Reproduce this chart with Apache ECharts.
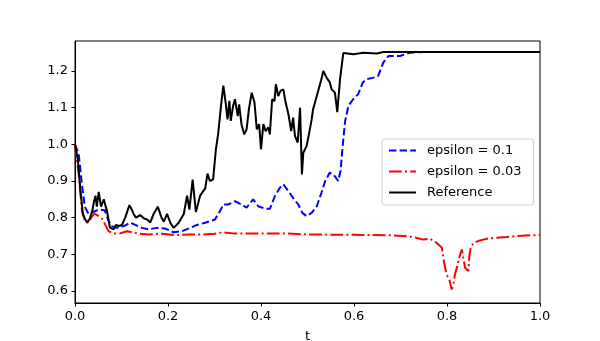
<!DOCTYPE html>
<html>
<head>
<meta charset="utf-8">
<script src="https://cdn.jsdelivr.net/npm/echarts@6/dist/echarts.min.js"></script>
<style>
  html, body { margin: 0; padding: 0; background: #fff; }
  #chart { width: 600px; height: 341px; }
</style>
</head>
<body>
<div id="chart"></div>
<script>
// series names
const seriesNames = ["epsilon = 0.1", "epsilon = 0.03", "Reference"];

// epsilon = 0.1 (blue dashed)
const tEps1 = [0, 0.008, 0.015, 0.021, 0.029, 0.04, 0.051, 0.064, 0.071, 0.078, 0.09, 0.105, 0.119, 0.13, 0.144, 0.158, 0.176, 0.194, 0.212, 0.23, 0.248, 0.262, 0.28, 0.301, 0.312, 0.319, 0.33, 0.344, 0.358, 0.369, 0.383, 0.394, 0.409, 0.419, 0.43, 0.441, 0.448, 0.459, 0.469, 0.48, 0.489, 0.498, 0.509, 0.52, 0.53, 0.538, 0.548, 0.559, 0.566, 0.571, 0.576, 0.581, 0.588, 0.598, 0.609, 0.619, 0.627, 0.642, 0.652, 0.663, 0.674, 0.699, 0.72, 0.75, 1.0];
const yEps1 = [1.0, 0.973, 0.89, 0.83, 0.81, 0.816, 0.822, 0.82, 0.795, 0.777, 0.772, 0.777, 0.786, 0.78, 0.772, 0.768, 0.772, 0.77, 0.76, 0.763, 0.772, 0.78, 0.786, 0.795, 0.818, 0.836, 0.836, 0.845, 0.836, 0.827, 0.85, 0.831, 0.824, 0.824, 0.859, 0.882, 0.891, 0.872, 0.854, 0.836, 0.813, 0.804, 0.813, 0.831, 0.868, 0.9, 0.923, 0.913, 0.9, 0.927, 1.0, 1.064, 1.105, 1.123, 1.137, 1.169, 1.178, 1.182, 1.187, 1.223, 1.241, 1.241, 1.25, 1.252, 1.252];

// epsilon = 0.03 (red dash-dot)
const tEps03 = [0, 0.008, 0.015, 0.022, 0.029, 0.035, 0.042, 0.051, 0.06, 0.065, 0.072, 0.083, 0.097, 0.112, 0.123, 0.137, 0.158, 0.187, 0.216, 0.245, 0.273, 0.3, 0.319, 0.34, 0.38, 0.45, 0.5, 0.6, 0.68, 0.706, 0.728, 0.749, 0.763, 0.778, 0.789, 0.792, 0.796, 0.799, 0.805, 0.81, 0.814, 0.817, 0.822, 0.826, 0.832, 0.835, 0.839, 0.842, 0.846, 0.848, 0.851, 0.857, 0.867, 0.878, 0.889, 0.907, 0.928, 0.95, 0.986, 1.0];
const yEps03 = [1.0, 0.918, 0.818, 0.789, 0.786, 0.8, 0.811, 0.804, 0.795, 0.781, 0.763, 0.757, 0.757, 0.763, 0.76, 0.756, 0.754, 0.756, 0.752, 0.754, 0.754, 0.756, 0.76, 0.757, 0.757, 0.757, 0.754, 0.753, 0.752, 0.75, 0.747, 0.74, 0.743, 0.731, 0.718, 0.69, 0.663, 0.645, 0.631, 0.604, 0.617, 0.645, 0.667, 0.69, 0.713, 0.69, 0.663, 0.658, 0.654, 0.695, 0.718, 0.731, 0.736, 0.74, 0.743, 0.745, 0.747, 0.75, 0.752, 0.752];

// Reference (black solid)
const tRef = [0, 0.006, 0.012, 0.017, 0.022, 0.026, 0.031, 0.037, 0.041, 0.044, 0.047, 0.051, 0.056, 0.062, 0.066, 0.069, 0.075, 0.083, 0.088, 0.094, 0.101, 0.108, 0.117, 0.122, 0.126, 0.131, 0.135, 0.14, 0.148, 0.155, 0.162, 0.169, 0.178, 0.182, 0.186, 0.191, 0.198, 0.205, 0.212, 0.223, 0.234, 0.241, 0.246, 0.253, 0.26, 0.269, 0.28, 0.285, 0.29, 0.297, 0.303, 0.308, 0.314, 0.319, 0.324, 0.328, 0.332, 0.335, 0.34, 0.344, 0.35, 0.353, 0.358, 0.364, 0.369, 0.374, 0.38, 0.386, 0.391, 0.396, 0.4, 0.405, 0.41, 0.416, 0.419, 0.424, 0.429, 0.432, 0.437, 0.442, 0.448, 0.453, 0.459, 0.465, 0.469, 0.473, 0.479, 0.484, 0.488, 0.491, 0.498, 0.503, 0.509, 0.512, 0.518, 0.523, 0.53, 0.534, 0.541, 0.548, 0.552, 0.559, 0.564, 0.57, 0.577, 0.599, 0.62, 0.649, 0.663, 1.0];
const yRef = [1.0, 0.96, 0.87, 0.81, 0.795, 0.787, 0.795, 0.817, 0.845, 0.86, 0.83, 0.87, 0.83, 0.85, 0.83, 0.817, 0.773, 0.768, 0.78, 0.777, 0.78, 0.8, 0.834, 0.822, 0.81, 0.8, 0.795, 0.807, 0.798, 0.795, 0.787, 0.81, 0.83, 0.815, 0.8, 0.789, 0.81, 0.786, 0.772, 0.786, 0.81, 0.86, 0.822, 0.904, 0.815, 0.86, 0.88, 0.92, 0.9, 0.904, 0.986, 1.03, 1.105, 1.16, 1.114, 1.068, 1.119, 1.064, 1.105, 1.123, 1.077, 1.109, 1.055, 1.027, 1.041, 1.096, 1.141, 1.114, 1.041, 1.055, 0.986, 1.055, 1.036, 1.046, 1.027, 1.123, 1.118, 1.164, 1.132, 1.146, 1.15, 1.114, 1.082, 1.036, 1.073, 1.023, 1.005, 1.1, 0.918, 0.977, 0.995, 1.027, 1.068, 1.096, 1.123, 1.146, 1.178, 1.2, 1.182, 1.169, 1.15, 1.141, 1.088, 1.178, 1.249, 1.246, 1.25, 1.248, 1.252, 1.252];

// axis ranges
const xMin = 0, xMax = 1;
const yMin = 0.567, yMax = 1.282;

function pairs(ts, ys) {
  return ts.map((t, i) => [t, ys[i]]);
}

const font = "DejaVu Sans";
const myChart = echarts.init(document.getElementById("chart"));
myChart.setOption({
  animation: false,
  textStyle: { fontFamily: font, color: "#000" },
  grid: {
    left: 75, right: 60, top: 41, bottom: 38,
    outerBoundsMode: "none",
    containLabel: false,
    show: true, borderColor: "#000", borderWidth: 1,
  },
  legend: {
    data: seriesNames,
    orient: "vertical",
    left: 382,
    top: 139,
    itemWidth: 27,
    itemHeight: 14,
    itemGap: 8,
    padding: [5, 12, 6, 6],
    backgroundColor: "rgba(255,255,255,0.8)",
    borderColor: "#cccccc",
    borderWidth: 1,
    borderRadius: 3,
    itemStyle: { opacity: 0 },
    textStyle: { fontFamily: font, fontSize: 13, color: "#000", padding: [0, 0, 0, 6] },
  },
  xAxis: {
    type: "value",
    min: xMin, max: xMax, interval: 0.2,
    name: "t",
    nameLocation: "middle",
    nameGap: 27,
    nameTextStyle: { fontFamily: font, fontSize: 13, color: "#000" },
    axisLine: { onZero: false, lineStyle: { color: "#000", width: 1 } },
    axisTick: { show: true, length: 3.5, lineStyle: { color: "#000" } },
    axisLabel: {
      margin: 7, fontFamily: font, fontSize: 13, color: "#000",
      formatter: (v) => v.toFixed(1),
    },
    splitLine: { show: false },
  },
  yAxis: {
    type: "value",
    min: yMin, max: yMax,
    splitNumber: 7,
    axisLine: { show: true, onZero: false, lineStyle: { color: "#000", width: 1 } },
    axisTick: { show: true, length: 3.5, lineStyle: { color: "#000" } },
    axisLabel: {
      margin: 7, fontFamily: font, fontSize: 13, color: "#000",
      showMinLabel: false, showMaxLabel: false,
      formatter: (v) => {
        const r = Math.round(v * 10) / 10;
        return Math.abs(r - v) < 1e-6 ? r.toFixed(1) : "";
      },
    },
    splitLine: { show: false },
  },
  series: [
    {
      name: seriesNames[0],
      type: "line",
      symbol: "none",
      data: pairs(tEps1, yEps1),
      lineStyle: { color: "#0000ff", width: 2, type: [7.4, 3.2] },
      itemStyle: { color: "#0000ff" },
    },
    {
      name: seriesNames[1],
      type: "line",
      symbol: "none",
      data: pairs(tEps03, yEps03),
      lineStyle: { color: "#ff0000", width: 2, type: [12.8, 3.2, 2, 3.2] },
      itemStyle: { color: "#ff0000" },
    },
    {
      name: seriesNames[2],
      type: "line",
      symbol: "none",
      data: pairs(tRef, yRef),
      lineStyle: { color: "#000000", width: 2 },
      itemStyle: { color: "#000000" },
    },
  ],
});
</script>
</body>
</html>
